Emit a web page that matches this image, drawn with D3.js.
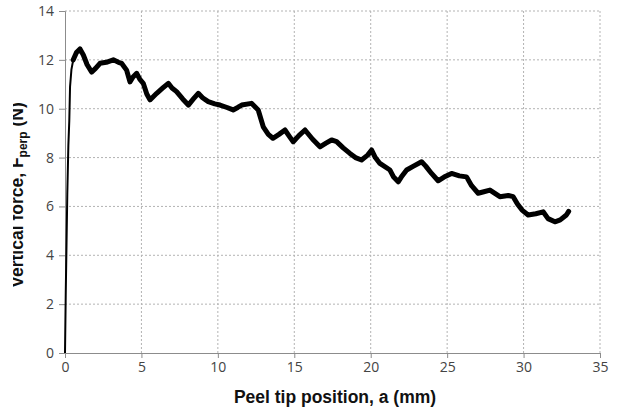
<!DOCTYPE html>
<html><head><meta charset="utf-8">
<script src="https://cdn.jsdelivr.net/npm/d3@7"></script>
<style>body{margin:0;background:#fff;} svg{display:block;}</style>
</head><body>
<script>
const xTicks = [0,5,10,15,20,25,30,35];
const yTicks = [0,2,4,6,8,10,12,14];
const posMM = [0,0.05,0.1,0.15,0.22,0.28,0.33,0.42,0.54,0.75,0.98,1.2,1.45,1.74,2.0,2.29,2.7,3.16,3.5,3.7,4.03,4.25,4.45,4.69,4.9,5.12,5.35,5.56,6.0,6.4,6.76,7.0,7.3,7.7,8.07,8.4,8.72,9.0,9.37,9.8,10.14,10.6,11.0,11.3,11.56,12.2,12.64,12.97,13.3,13.6,14.0,14.39,14.7,14.93,15.3,15.7,16.2,16.68,17.1,17.44,17.77,18.2,18.64,19.0,19.4,19.8,20.06,20.3,20.6,21.26,21.5,21.8,22.0,22.35,22.8,23.33,23.6,23.98,24.41,24.8,25.29,25.8,26.27,26.6,27.03,27.4,27.8,28.45,29.0,29.32,29.6,29.9,30.3,30.8,31.28,31.6,32.05,32.4,32.8,32.95];
const forceN = [0,2.5,4.5,6.5,8.5,9.5,10.9,11.6,12.0,12.3,12.45,12.2,11.8,11.5,11.65,11.86,11.9,12.0,11.9,11.86,11.58,11.1,11.3,11.45,11.2,11.04,10.6,10.36,10.63,10.85,11.04,10.85,10.7,10.4,10.15,10.4,10.63,10.45,10.29,10.2,10.15,10.05,9.95,10.05,10.15,10.22,9.95,9.26,8.95,8.79,8.95,9.13,8.85,8.65,8.9,9.13,8.75,8.44,8.6,8.72,8.65,8.4,8.17,8.0,7.9,8.1,8.31,8.0,7.76,7.49,7.2,7.01,7.2,7.49,7.65,7.83,7.65,7.35,7.05,7.2,7.35,7.25,7.21,6.85,6.54,6.6,6.67,6.4,6.45,6.4,6.1,5.85,5.65,5.7,5.78,5.5,5.37,5.45,5.65,5.8];

const W = 623, H = 412;
const svg = d3.select("body").append("svg").attr("width", W).attr("height", H);
const x = d3.scaleLinear().domain([0,35]).range([65,600]);
const y = d3.scaleLinear().domain([0,14]).range([353,11]);

// gridlines
svg.append("g").selectAll("line").data(yTicks.filter(d=>d>0)).join("line")
  .attr("x1", x(0)).attr("x2", x(35)).attr("y1", d=>y(d)).attr("y2", d=>y(d))
  .attr("stroke", "#b3b3b3").attr("stroke-width", 1).attr("stroke-dasharray", "2,2");
svg.append("g").selectAll("line").data(xTicks.filter(d=>d>0)).join("line")
  .attr("x1", d=>x(d)).attr("x2", d=>x(d)).attr("y1", y(0)).attr("y2", y(14))
  .attr("stroke", "#b3b3b3").attr("stroke-width", 1).attr("stroke-dasharray", "2,2");

// axes
const xAxis = svg.append("g").attr("transform", `translate(0,${y(0)})`)
  .call(d3.axisBottom(x).tickValues(xTicks).tickSize(5).tickPadding(4));
const yAxis = svg.append("g").attr("transform", `translate(${x(0)},0)`)
  .call(d3.axisLeft(y).tickValues(yTicks).tickSize(6).tickPadding(5));
[xAxis, yAxis].forEach(g => {
  g.select(".domain").attr("stroke", "#8c8c8c");
  g.selectAll(".tick line").attr("stroke", "#8c8c8c");
  g.selectAll(".tick text").attr("fill", "#444").style("font-family", "'Open Sans', sans-serif").style("font-size", "14px");
});

// data line
const pts = posMM.map((d,i)=>[d, forceN[i]]);
const line = d3.line().x(d=>x(d[0])).y(d=>y(d[1]));
svg.append("path").datum(pts.filter(d=>d[0] <= 0.8)).attr("d", line)
  .attr("fill","none").attr("stroke","#000").attr("stroke-width",2);
svg.append("path").datum(pts.filter(d=>d[0] >= 0.54)).attr("d", line)
  .attr("fill","none").attr("stroke","#000").attr("stroke-width",5).attr("stroke-linejoin","round").attr("stroke-linecap","round");

// x title
svg.append("text").attr("x", 335).attr("y", 403).attr("text-anchor","middle")
  .style("font-family","'Liberation Sans', Arial, sans-serif").style("font-weight","bold").style("font-size","17.5px")
  .attr("fill","#111").text("Peel tip position, a (mm)");

// y title (clipped at left like the reference)
svg.append("clipPath").attr("id","yclip").append("rect").attr("x",13).attr("y",0).attr("width",60).attr("height",H);
const yt = svg.append("g").attr("clip-path","url(#yclip)").append("text")
  .attr("transform","translate(23,195) rotate(-90)").attr("text-anchor","middle")
  .style("font-family","'Liberation Sans', Arial, sans-serif").style("font-weight","bold").style("font-size","17.5px")
  .attr("fill","#111");
yt.append("tspan").text("Vertical force, F");
yt.append("tspan").attr("dy", 4).style("font-size","12px").text("perp");
yt.append("tspan").attr("dy", -4).text(" (N)");
</script>
</body></html>
